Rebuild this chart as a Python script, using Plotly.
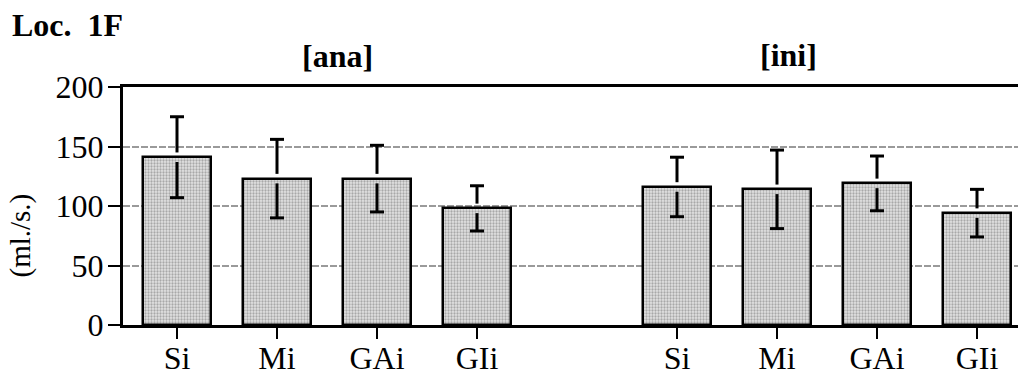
import plotly.graph_objects as go

# ---- data ----
groups = ["[ana]", "[ini]"]
categories = ["Si", "Mi", "GAi", "GIi"]
ana_means = [141, 123, 123, 98]
ana_errs = [34, 33, 28, 19]
ini_means = [116, 114, 119, 94]
ini_errs = [25, 33, 23, 20]
y_ticks = [0, 50, 100, 150, 200]

FONT = "Liberation Serif, Times New Roman, serif"
GAP = 4.0  # visual gap of the error line around the bar edge

# positions: group 0 -> 0..3, group 1 -> 5..8
pos = []
labels = []
means = []
errs = []
for gi, (m, e) in enumerate([(ana_means, ana_errs), (ini_means, ini_errs)]):
    for ci, c in enumerate(categories):
        pos.append(gi * 5 + ci)
        labels.append(c)
        means.append(m[ci])
        errs.append(e[ci])

fig = go.Figure()
fig.add_trace(go.Bar(
    x=pos, y=means, width=0.68,
    marker=dict(
        color="#dcdcdc",
        line=dict(color="black", width=2.5),
        pattern=dict(shape=".", fgcolor="#6e6e6e", bgcolor="#e2e2e2", size=3, solidity=0.45),
    ),
    showlegend=False, hoverinfo="skip",
))

# error stems (with a small gap around the bar top)
ex, ey = [], []
for x, m, e in zip(pos, means, errs):
    ex += [x, x, None, x, x, None]
    ey += [m + GAP, m + e, None, m - GAP, m - e, None]
fig.add_trace(go.Scatter(x=ex, y=ey, mode="lines", line=dict(color="black", width=3),
                         showlegend=False, hoverinfo="skip"))
# caps
cx, cy = [], []
for x, m, e in zip(pos, means, errs):
    cx += [x, x]
    cy += [m + e, m - e]
fig.add_trace(go.Scatter(x=cx, y=cy, mode="markers",
                         marker=dict(symbol="line-ew", size=10, line=dict(color="black", width=3)),
                         showlegend=False, hoverinfo="skip"))

fig.update_layout(
    width=1018, height=372,
    margin=dict(l=123, r=0, t=87, b=47, autoexpand=False),
    plot_bgcolor="white", paper_bgcolor="white",
    font=dict(family=FONT, size=32, color="black"),
    bargap=0,
    xaxis=dict(
        range=[-0.54, 8.41], tickmode="array", tickvals=pos, ticktext=labels,
        showgrid=False, zeroline=False,
        showline=True, mirror=True, linecolor="black", linewidth=3,
        ticks="outside", ticklen=11, tickwidth=2, tickcolor="black",
        tickfont=dict(family=FONT, size=32), ticklabelstandoff=-8,
    ),
    yaxis=dict(
        range=[0, 200], tickmode="array", tickvals=y_ticks,
        showgrid=True, gridcolor="#9a9a9a", gridwidth=2, griddash="7px,2px",
        zeroline=False,
        showline=True, linecolor="black", linewidth=3,
        ticks="outside", ticklen=12, tickwidth=2, tickcolor="black",
        tickfont=dict(family=FONT, size=32), ticklabelstandoff=-2,
    ),
    annotations=[
        dict(text="<b>Loc.  1F</b>", xref="paper", yref="paper", x=-0.126, y=1.262,
             xanchor="left", yanchor="middle", showarrow=False,
             font=dict(family=FONT, size=32, color="black")),
        dict(text="<b>" + groups[0] + "</b>", xref="paper", yref="paper", x=0.240, y=1.13,
             xanchor="center", yanchor="middle", showarrow=False,
             font=dict(family=FONT, size=32, color="black")),
        dict(text="<b>" + groups[1] + "</b>", xref="paper", yref="paper", x=0.744, y=1.134,
             xanchor="center", yanchor="middle", showarrow=False,
             font=dict(family=FONT, size=32, color="black")),
        dict(text="(ml./s.)", xref="paper", yref="paper", x=-0.1145, y=0.374,
             xanchor="center", yanchor="middle", textangle=-90, showarrow=False,
             font=dict(family=FONT, size=29, color="black")),
    ],
)

fig.write_html("out.html", config={"displayModeBar": False},
               post_script="document.body.style.margin='0';document.body.style.overflow='hidden';")
